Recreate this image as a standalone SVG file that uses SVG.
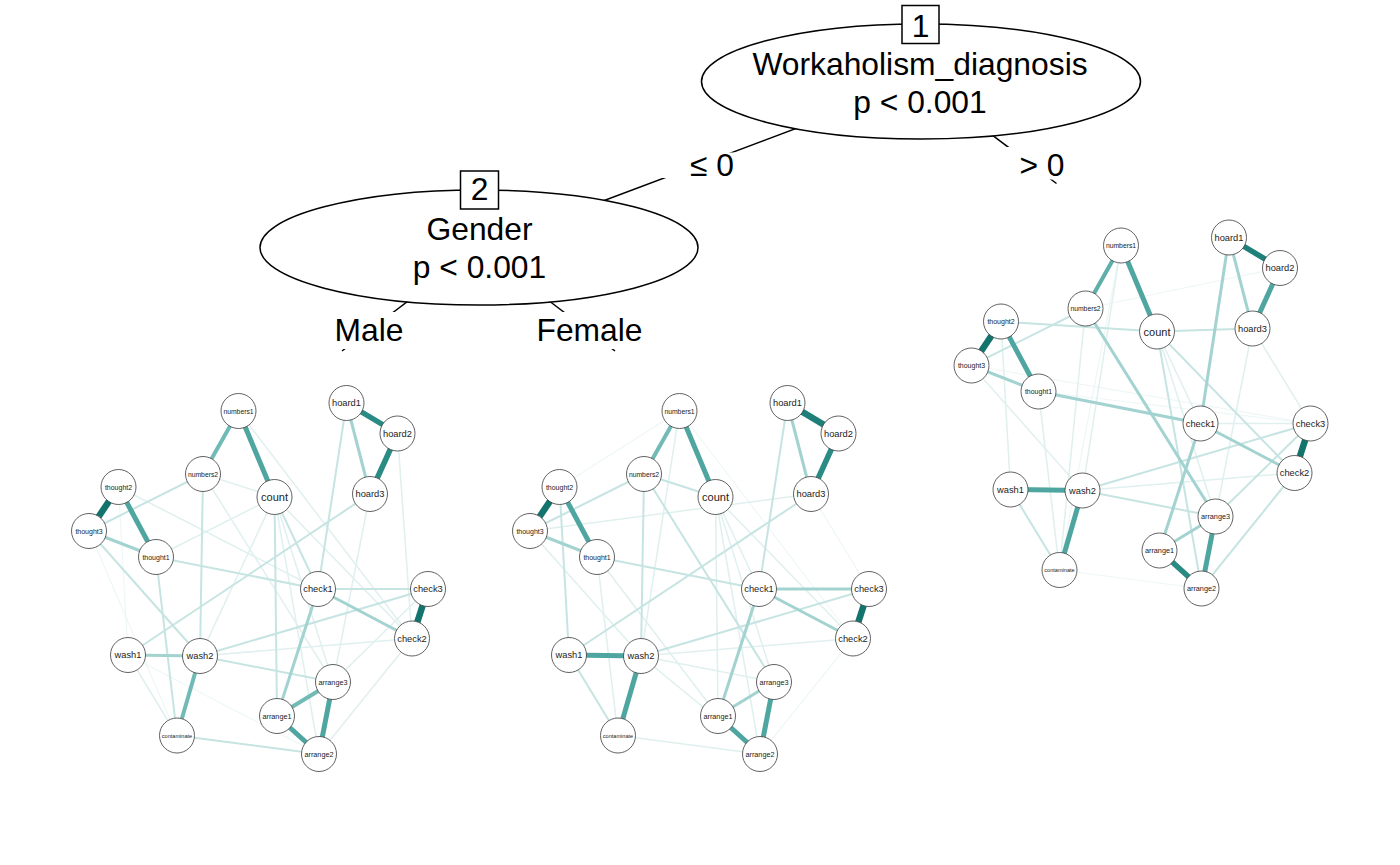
<svg xmlns="http://www.w3.org/2000/svg" width="1400" height="865" viewBox="0 0 1400 865">
<style>
.bg{fill:#ffffff}
.tl{stroke:#000;stroke-width:1.5;fill:none}
.ell{fill:#fff;stroke:#000;stroke-width:1.5}
.box{fill:#fff;stroke:#000;stroke-width:1.5}
.tt{font-family:"Liberation Sans",Arial,Helvetica,sans-serif;font-size:31.8px;fill:#000;text-anchor:middle}
.lb{fill:#fff;stroke:none}
.n circle{fill:#fff;stroke:#3a3a3a;stroke-width:0.8}
.n text{font-family:"Liberation Sans",Arial,Helvetica,sans-serif;fill:#222;text-anchor:middle;dominant-baseline:central}
.lc{font-size:11px}
.lh{font-size:9.3px}
.lt{font-size:7px}
.la{font-size:7.3px}
.ln{font-size:6.8px}
.lco{font-size:5.6px}
.e line{stroke-linecap:butt}
.e5{stroke:#13746D;stroke-width:6.5}
.e4{stroke:#2A8A84;stroke-width:5.5}
.e3{stroke:#4FA6A1;stroke-width:5}
.e2{stroke:#72BAB6;stroke-width:4}
.e2l{stroke:#A3D3D0;stroke-width:3}
.e1{stroke:#C6E4E2;stroke-width:2}
.e0{stroke:#E0F0EF;stroke-width:1.5}
.e00{stroke:#EEF7F6;stroke-width:1.2}
</style>
<rect class="bg" x="0" y="0" width="1400" height="865"/>

<!-- tree connectors -->
<g id="tree-connectors">
<line class="tl" x1="921" y1="81.5" x2="479" y2="247.5"/>
<line class="tl" x1="921" y1="81.5" x2="1056.5" y2="183.5"/>
<line class="tl" x1="479" y1="247.5" x2="342" y2="351"/>
<line class="tl" x1="479" y1="247.5" x2="615" y2="351"/>
<rect class="lb" x="655" y="152.5" width="115" height="25.5"/>
<rect class="lb" x="990" y="147" width="110" height="32.5"/>
<rect class="lb" x="325" y="312" width="95" height="37"/>
<rect class="lb" x="525" y="312" width="130" height="37"/>
<text class="tt" x="712" y="176">≤ 0</text>
<text class="tt" x="1042" y="176">&gt; 0</text>
<text class="tt" x="369" y="341">Male</text>
<text class="tt" x="589.5" y="341">Female</text>
</g>

<g id="node1">
<ellipse class="ell" cx="921" cy="81.5" rx="219.5" ry="57.5"/>
<rect class="box" x="902" y="5.5" width="37" height="38"/>
<text class="tt" x="920.5" y="36.5">1</text>
<text class="tt" x="920" y="75">Workaholism_diagnosis</text>
<text class="tt" x="920" y="113">p &lt; 0.001</text>
</g>

<g id="node2">
<ellipse class="ell" cx="479" cy="247.5" rx="219" ry="57.5"/>
<rect class="box" x="460.5" y="171" width="38" height="38"/>
<text class="tt" x="479.5" y="200">2</text>
<text class="tt" x="479.5" y="240">Gender</text>
<text class="tt" x="479.5" y="278">p &lt; 0.001</text>
</g>

<!-- ============ Network: Male (node 3) ============ -->
<g id="net-male">
<g id="male-connectors" class="e">
<line class="e00" x1="118.5" y1="487" x2="128" y2="655"/>
<line class="e00" x1="128" y1="655" x2="319" y2="754"/>
<line class="e00" x1="89" y1="531" x2="177" y2="735.5"/>
<line class="e0" x1="274.5" y1="497" x2="200" y2="656"/>
<line class="e0" x1="274.5" y1="497" x2="412" y2="638.5"/>
<line class="e0" x1="274.5" y1="497" x2="333" y2="682"/>
<line class="e0" x1="274.5" y1="497" x2="319" y2="754"/>
<line class="e0" x1="238.5" y1="411" x2="412" y2="638.5"/>
<line class="e0" x1="370" y1="494" x2="333" y2="682"/>
<line class="e0" x1="397.5" y1="433.5" x2="412" y2="638.5"/>
<line class="e0" x1="118.5" y1="487" x2="318" y2="589"/>
<line class="e0" x1="428" y1="589" x2="333" y2="682"/>
<line class="e0" x1="200" y1="656" x2="412" y2="638.5"/>
<line class="e0" x1="203" y1="474" x2="274.5" y2="497"/>
<line class="e0" x1="203" y1="474" x2="333" y2="682"/>
<line class="e0" x1="156" y1="557" x2="274.5" y2="497"/>
<line class="e0" x1="128" y1="655" x2="177" y2="735.5"/>
<line class="e0" x1="412" y1="638.5" x2="319" y2="754"/>
<line class="e1" x1="274.5" y1="497" x2="318" y2="589"/>
<line class="e1" x1="200" y1="656" x2="333" y2="682"/>
<line class="e1" x1="156" y1="557" x2="318" y2="589"/>
<line class="e1" x1="203" y1="474" x2="89" y2="531"/>
<line class="e1" x1="203" y1="474" x2="200" y2="656"/>
<line class="e1" x1="89" y1="531" x2="200" y2="656"/>
<line class="e1" x1="370" y1="494" x2="128" y2="655"/>
<line class="e1" x1="200" y1="656" x2="428" y2="589"/>
<line class="e1" x1="318" y1="589" x2="428" y2="589"/>
<line class="e1" x1="274.5" y1="497" x2="277" y2="716"/>
<line class="e1" x1="346.5" y1="403" x2="318" y2="589"/>
<line class="e1" x1="156" y1="557" x2="177" y2="735.5"/>
<line class="e1" x1="177" y1="735.5" x2="319" y2="754"/>
<line class="e2l" x1="128" y1="655" x2="200" y2="656"/>
<line class="e2l" x1="89" y1="531" x2="156" y2="557"/>
<line class="e2l" x1="346.5" y1="403" x2="370" y2="494"/>
<line class="e2l" x1="318" y1="589" x2="412" y2="638.5"/>
<line class="e2l" x1="318" y1="589" x2="277" y2="716"/>
<line class="e2" x1="238.5" y1="411" x2="203" y2="474"/>
<line class="e2" x1="200" y1="656" x2="177" y2="735.5"/>
<line class="e2" x1="277" y1="716" x2="333" y2="682"/>
<line class="e3" x1="118.5" y1="487" x2="156" y2="557"/>
<line class="e3" x1="238.5" y1="411" x2="274.5" y2="497"/>
<line class="e3" x1="277" y1="716" x2="319" y2="754"/>
<line class="e3" x1="333" y1="682" x2="319" y2="754"/>
<line class="e4" x1="346.5" y1="403" x2="397.5" y2="433.5"/>
<line class="e4" x1="397.5" y1="433.5" x2="370" y2="494"/>
<line class="e5" x1="118.5" y1="487" x2="89" y2="531"/>
<line class="e5" x1="428" y1="589" x2="412" y2="638.5"/>
</g>
<g id="male-numbers1" class="n"><circle cx="238.5" cy="411" r="17.5"/><text class="ln" x="238.5" y="411">numbers1</text></g>
<g id="male-numbers2" class="n"><circle cx="203" cy="474" r="17.5"/><text class="ln" x="203" y="474">numbers2</text></g>
<g id="male-count" class="n"><circle cx="274.5" cy="497" r="17.5"/><text class="lc" x="274.5" y="497">count</text></g>
<g id="male-hoard1" class="n"><circle cx="346.5" cy="403" r="17.5"/><text class="lh" x="346.5" y="403">hoard1</text></g>
<g id="male-hoard2" class="n"><circle cx="397.5" cy="433.5" r="17.5"/><text class="lh" x="397.5" y="433.5">hoard2</text></g>
<g id="male-hoard3" class="n"><circle cx="370" cy="494" r="17.5"/><text class="lh" x="370" y="494">hoard3</text></g>
<g id="male-thought2" class="n"><circle cx="118.5" cy="487" r="17.5"/><text class="lt" x="118.5" y="487">thought2</text></g>
<g id="male-thought3" class="n"><circle cx="89" cy="531" r="17.5"/><text class="lt" x="89" y="531">thought3</text></g>
<g id="male-thought1" class="n"><circle cx="156" cy="557" r="17.5"/><text class="lt" x="156" y="557">thought1</text></g>
<g id="male-check1" class="n"><circle cx="318" cy="589" r="17.5"/><text class="lh" x="318" y="589">check1</text></g>
<g id="male-check3" class="n"><circle cx="428" cy="589" r="17.5"/><text class="lh" x="428" y="589">check3</text></g>
<g id="male-check2" class="n"><circle cx="412" cy="638.5" r="17.5"/><text class="lh" x="412" y="638.5">check2</text></g>
<g id="male-wash1" class="n"><circle cx="128" cy="655" r="17.5"/><text class="lh" x="128" y="655">wash1</text></g>
<g id="male-wash2" class="n"><circle cx="200" cy="656" r="17.5"/><text class="lh" x="200" y="656">wash2</text></g>
<g id="male-arrange3" class="n"><circle cx="333" cy="682" r="17.5"/><text class="la" x="333" y="682">arrange3</text></g>
<g id="male-arrange1" class="n"><circle cx="277" cy="716" r="17.5"/><text class="la" x="277" y="716">arrange1</text></g>
<g id="male-arrange2" class="n"><circle cx="319" cy="754" r="17.5"/><text class="la" x="319" y="754">arrange2</text></g>
<g id="male-contaminate" class="n"><circle cx="177" cy="735.5" r="17.5"/><text class="lco" x="177" y="735.5">contaminate</text></g>
</g>

<!-- ============ Network: Female (node 4) ============ -->
<g id="net-female" transform="translate(441,0)">
<g id="female-connectors" class="e">
<line class="e00" x1="412" y1="638.5" x2="319" y2="754"/>
<line class="e00" x1="370" y1="494" x2="428" y2="589"/>
<line class="e00" x1="238.5" y1="411" x2="118.5" y2="487"/>
<line class="e00" x1="238.5" y1="411" x2="412" y2="638.5"/>
<line class="e0" x1="238.5" y1="411" x2="200" y2="656"/>
<line class="e0" x1="89" y1="531" x2="200" y2="656"/>
<line class="e0" x1="200" y1="656" x2="333" y2="682"/>
<line class="e0" x1="200" y1="656" x2="412" y2="638.5"/>
<line class="e0" x1="370" y1="494" x2="89" y2="531"/>
<line class="e0" x1="274.5" y1="497" x2="318" y2="589"/>
<line class="e0" x1="274.5" y1="497" x2="412" y2="638.5"/>
<line class="e0" x1="274.5" y1="497" x2="333" y2="682"/>
<line class="e0" x1="274.5" y1="497" x2="319" y2="754"/>
<line class="e0" x1="274.5" y1="497" x2="277" y2="716"/>
<line class="e0" x1="177" y1="735.5" x2="319" y2="754"/>
<line class="e0" x1="156" y1="557" x2="277" y2="716"/>
<line class="e0" x1="156" y1="557" x2="177" y2="735.5"/>
<line class="e0" x1="200" y1="656" x2="319" y2="754"/>
<line class="e1" x1="346.5" y1="403" x2="318" y2="589"/>
<line class="e1" x1="156" y1="557" x2="318" y2="589"/>
<line class="e1" x1="203" y1="474" x2="333" y2="682"/>
<line class="e1" x1="203" y1="474" x2="89" y2="531"/>
<line class="e1" x1="203" y1="474" x2="274.5" y2="497"/>
<line class="e1" x1="203" y1="474" x2="200" y2="656"/>
<line class="e1" x1="118.5" y1="487" x2="128" y2="655"/>
<line class="e1" x1="128" y1="655" x2="177" y2="735.5"/>
<line class="e1" x1="200" y1="656" x2="428" y2="589"/>
<line class="e1" x1="370" y1="494" x2="128" y2="655"/>
<line class="e2l" x1="277" y1="716" x2="333" y2="682"/>
<line class="e2l" x1="89" y1="531" x2="156" y2="557"/>
<line class="e2l" x1="346.5" y1="403" x2="370" y2="494"/>
<line class="e2l" x1="318" y1="589" x2="412" y2="638.5"/>
<line class="e2l" x1="318" y1="589" x2="428" y2="589"/>
<line class="e2l" x1="318" y1="589" x2="277" y2="716"/>
<line class="e2" x1="238.5" y1="411" x2="203" y2="474"/>
<line class="e3" x1="128" y1="655" x2="200" y2="656"/>
<line class="e3" x1="200" y1="656" x2="177" y2="735.5"/>
<line class="e3" x1="118.5" y1="487" x2="156" y2="557"/>
<line class="e3" x1="238.5" y1="411" x2="274.5" y2="497"/>
<line class="e3" x1="277" y1="716" x2="319" y2="754"/>
<line class="e3" x1="333" y1="682" x2="319" y2="754"/>
<line class="e4" x1="397.5" y1="433.5" x2="370" y2="494"/>
<line class="e5" x1="346.5" y1="403" x2="397.5" y2="433.5" style="stroke:#1F807A"/>
<line class="e5" x1="118.5" y1="487" x2="89" y2="531"/>
<line class="e5" x1="428" y1="589" x2="412" y2="638.5"/>
</g>
<g id="female-numbers1" class="n"><circle cx="238.5" cy="411" r="17.5"/><text class="ln" x="238.5" y="411">numbers1</text></g>
<g id="female-numbers2" class="n"><circle cx="203" cy="474" r="17.5"/><text class="ln" x="203" y="474">numbers2</text></g>
<g id="female-count" class="n"><circle cx="274.5" cy="497" r="17.5"/><text class="lc" x="274.5" y="497">count</text></g>
<g id="female-hoard1" class="n"><circle cx="346.5" cy="403" r="17.5"/><text class="lh" x="346.5" y="403">hoard1</text></g>
<g id="female-hoard2" class="n"><circle cx="397.5" cy="433.5" r="17.5"/><text class="lh" x="397.5" y="433.5">hoard2</text></g>
<g id="female-hoard3" class="n"><circle cx="370" cy="494" r="17.5"/><text class="lh" x="370" y="494">hoard3</text></g>
<g id="female-thought2" class="n"><circle cx="118.5" cy="487" r="17.5"/><text class="lt" x="118.5" y="487">thought2</text></g>
<g id="female-thought3" class="n"><circle cx="89" cy="531" r="17.5"/><text class="lt" x="89" y="531">thought3</text></g>
<g id="female-thought1" class="n"><circle cx="156" cy="557" r="17.5"/><text class="lt" x="156" y="557">thought1</text></g>
<g id="female-check1" class="n"><circle cx="318" cy="589" r="17.5"/><text class="lh" x="318" y="589">check1</text></g>
<g id="female-check3" class="n"><circle cx="428" cy="589" r="17.5"/><text class="lh" x="428" y="589">check3</text></g>
<g id="female-check2" class="n"><circle cx="412" cy="638.5" r="17.5"/><text class="lh" x="412" y="638.5">check2</text></g>
<g id="female-wash1" class="n"><circle cx="128" cy="655" r="17.5"/><text class="lh" x="128" y="655">wash1</text></g>
<g id="female-wash2" class="n"><circle cx="200" cy="656" r="17.5"/><text class="lh" x="200" y="656">wash2</text></g>
<g id="female-arrange3" class="n"><circle cx="333" cy="682" r="17.5"/><text class="la" x="333" y="682">arrange3</text></g>
<g id="female-arrange1" class="n"><circle cx="277" cy="716" r="17.5"/><text class="la" x="277" y="716">arrange1</text></g>
<g id="female-arrange2" class="n"><circle cx="319" cy="754" r="17.5"/><text class="la" x="319" y="754">arrange2</text></g>
<g id="female-contaminate" class="n"><circle cx="177" cy="735.5" r="17.5"/><text class="lco" x="177" y="735.5">contaminate</text></g>
</g>

<!-- ============ Network: Workaholism > 0 (node 5) ============ -->
<g id="net-work" transform="translate(882.5,-165.5)">
<g id="work-connectors" class="e">
<line class="e00" x1="177" y1="735.5" x2="319" y2="754"/>
<line class="e00" x1="89" y1="531" x2="428" y2="589"/>
<line class="e00" x1="156" y1="557" x2="428" y2="589"/>
<line class="e00" x1="397.5" y1="433.5" x2="203" y2="474"/>
<line class="e00" x1="238.5" y1="411" x2="177" y2="735.5"/>
<line class="e0" x1="274.5" y1="497" x2="333" y2="682"/>
<line class="e0" x1="274.5" y1="497" x2="318" y2="589"/>
<line class="e0" x1="200" y1="656" x2="412" y2="638.5"/>
<line class="e0" x1="370" y1="494" x2="428" y2="589"/>
<line class="e0" x1="370" y1="494" x2="333" y2="682"/>
<line class="e0" x1="238.5" y1="411" x2="200" y2="656"/>
<line class="e0" x1="203" y1="474" x2="177" y2="735.5"/>
<line class="e0" x1="156" y1="557" x2="177" y2="735.5"/>
<line class="e0" x1="118.5" y1="487" x2="128" y2="655"/>
<line class="e0" x1="89" y1="531" x2="200" y2="656"/>
<line class="e0" x1="318" y1="589" x2="428" y2="589"/>
<line class="e1" x1="118.5" y1="487" x2="274.5" y2="497"/>
<line class="e1" x1="274.5" y1="497" x2="370" y2="494"/>
<line class="e1" x1="203" y1="474" x2="89" y2="531"/>
<line class="e1" x1="274.5" y1="497" x2="412" y2="638.5"/>
<line class="e1" x1="274.5" y1="497" x2="319" y2="754"/>
<line class="e1" x1="200" y1="656" x2="428" y2="589"/>
<line class="e1" x1="200" y1="656" x2="333" y2="682"/>
<line class="e1" x1="128" y1="655" x2="177" y2="735.5"/>
<line class="e1" x1="412" y1="638.5" x2="319" y2="754"/>
<line class="e1" x1="428" y1="589" x2="333" y2="682"/>
<line class="e2l" x1="277" y1="716" x2="333" y2="682"/>
<line class="e2l" x1="89" y1="531" x2="156" y2="557"/>
<line class="e2l" x1="346.5" y1="403" x2="370" y2="494"/>
<line class="e2l" x1="318" y1="589" x2="412" y2="638.5"/>
<line class="e2l" x1="318" y1="589" x2="277" y2="716"/>
<line class="e2l" x1="346.5" y1="403" x2="318" y2="589"/>
<line class="e2l" x1="156" y1="557" x2="318" y2="589"/>
<line class="e2l" x1="203" y1="474" x2="333" y2="682"/>
<line class="e2" x1="238.5" y1="411" x2="203" y2="474" style="stroke:#5EAEAA"/>
<line class="e3" x1="128" y1="655" x2="200" y2="656"/>
<line class="e3" x1="200" y1="656" x2="177" y2="735.5"/>
<line class="e3" x1="118.5" y1="487" x2="156" y2="557"/>
<line class="e3" x1="238.5" y1="411" x2="274.5" y2="497"/>
<line class="e3" x1="333" y1="682" x2="319" y2="754"/>
<line class="e3" x1="397.5" y1="433.5" x2="370" y2="494"/>
<line class="e4" x1="277" y1="716" x2="319" y2="754"/>
<line class="e4" x1="346.5" y1="403" x2="397.5" y2="433.5" style="stroke:#1F807A"/>
<line class="e5" x1="118.5" y1="487" x2="89" y2="531"/>
<line class="e5" x1="428" y1="589" x2="412" y2="638.5"/>
</g>
<g id="work-numbers1" class="n"><circle cx="238.5" cy="411" r="17.5"/><text class="ln" x="238.5" y="411">numbers1</text></g>
<g id="work-numbers2" class="n"><circle cx="203" cy="474" r="17.5"/><text class="ln" x="203" y="474">numbers2</text></g>
<g id="work-count" class="n"><circle cx="274.5" cy="497" r="17.5"/><text class="lc" x="274.5" y="497">count</text></g>
<g id="work-hoard1" class="n"><circle cx="346.5" cy="403" r="17.5"/><text class="lh" x="346.5" y="403">hoard1</text></g>
<g id="work-hoard2" class="n"><circle cx="397.5" cy="433.5" r="17.5"/><text class="lh" x="397.5" y="433.5">hoard2</text></g>
<g id="work-hoard3" class="n"><circle cx="370" cy="494" r="17.5"/><text class="lh" x="370" y="494">hoard3</text></g>
<g id="work-thought2" class="n"><circle cx="118.5" cy="487" r="17.5"/><text class="lt" x="118.5" y="487">thought2</text></g>
<g id="work-thought3" class="n"><circle cx="89" cy="531" r="17.5"/><text class="lt" x="89" y="531">thought3</text></g>
<g id="work-thought1" class="n"><circle cx="156" cy="557" r="17.5"/><text class="lt" x="156" y="557">thought1</text></g>
<g id="work-check1" class="n"><circle cx="318" cy="589" r="17.5"/><text class="lh" x="318" y="589">check1</text></g>
<g id="work-check3" class="n"><circle cx="428" cy="589" r="17.5"/><text class="lh" x="428" y="589">check3</text></g>
<g id="work-check2" class="n"><circle cx="412" cy="638.5" r="17.5"/><text class="lh" x="412" y="638.5">check2</text></g>
<g id="work-wash1" class="n"><circle cx="128" cy="655" r="17.5"/><text class="lh" x="128" y="655">wash1</text></g>
<g id="work-wash2" class="n"><circle cx="200" cy="656" r="17.5"/><text class="lh" x="200" y="656">wash2</text></g>
<g id="work-arrange3" class="n"><circle cx="333" cy="682" r="17.5"/><text class="la" x="333" y="682">arrange3</text></g>
<g id="work-arrange1" class="n"><circle cx="277" cy="716" r="17.5"/><text class="la" x="277" y="716">arrange1</text></g>
<g id="work-arrange2" class="n"><circle cx="319" cy="754" r="17.5"/><text class="la" x="319" y="754">arrange2</text></g>
<g id="work-contaminate" class="n"><circle cx="177" cy="735.5" r="17.5"/><text class="lco" x="177" y="735.5">contaminate</text></g>
</g>
</svg>
